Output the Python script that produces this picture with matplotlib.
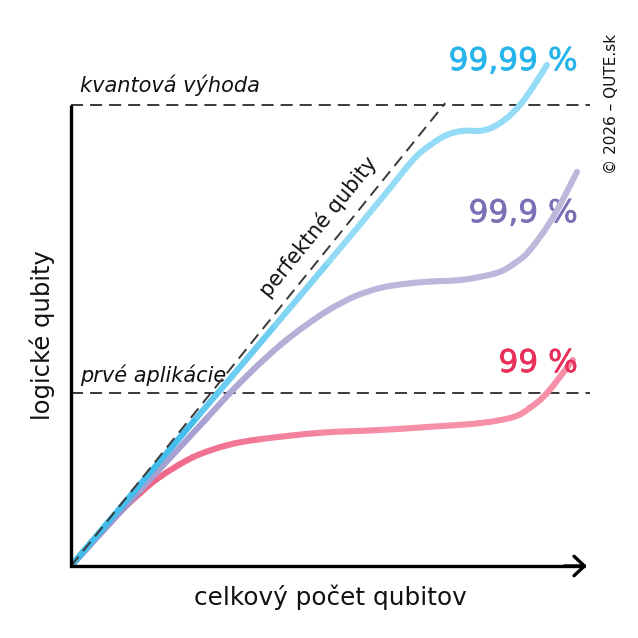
import numpy as np
import matplotlib
matplotlib.use('Agg')
import matplotlib.pyplot as plt
import matplotlib.patheffects as pe
from matplotlib.path import Path
from matplotlib.patches import PathPatch
from matplotlib.colors import to_rgb

# x = total qubits, y = logical qubits (100 = quantum advantage)
x_99 = [0, 4.6, 9.4, 13.3, 17.1, 23.5, 30.1, 36.4, 48.0, 59.5, 69.2, 78.8, 85.2, 88.4, 91.7, 96.7]
y_99 = [0, 5.9, 11.7, 15.8, 19.3, 23.6, 26.2, 27.5, 28.9, 29.5, 30.2, 31.0, 32.3, 34.3, 37.5, 44.7]

x_999 = [0, 13.3, 26.2, 30.6, 35.5, 40.3, 45.1, 49.9, 54.7, 59.5, 64.3, 69.2, 75.5, 82.1, 85.5, 88.4, 92.9, 97.5]
y_999 = [0, 16.4, 32.1, 37.5, 43.0, 47.9, 52.1, 55.7, 58.5, 60.3, 61.2, 61.7, 62.1, 63.6, 65.7, 68.5, 75.7, 85.5]

x_9999 = [0, 24.3, 28.8, 39.4, 49.6, 59.6, 65.9, 69.2, 72.4, 75.5, 78.8, 81.3, 84.0, 86.5, 89.0, 91.7]
y_9999 = [0, 32.3, 38.2, 52.3, 65.9, 79.4, 88.1, 91.3, 93.5, 94.4, 94.4, 95.2, 97.2, 100.0, 103.9, 108.7]

perfect_x = [0, 72.1]
perfect_y = [0, 100.4]

level_adv = 100.0
level_apps = 37.5

labels = ['99 %', '99,9 %', '99,99 %']


def gradient_curve(ax, xs, ys, c0, c1, lw=4.4, z=3):
    # smooth (catmull-rom -> bezier) between the read points, colour fading along it
    p = np.column_stack([xs, ys]).astype(float)
    n = len(p)
    d = np.hypot(np.diff(p[:, 0]), np.diff(p[:, 1]))
    t = (np.cumsum(d) - d / 2) / d.sum()
    a, b = np.array(to_rgb(c0)), np.array(to_rgb(c1))
    for i in range(n - 1):
        p0 = p[max(i - 1, 0)]
        p3 = p[min(i + 2, n - 1)]
        c_1 = p[i] + (p[i + 1] - p0) / 6
        c_2 = p[i + 1] - (p3 - p[i]) / 6
        path = Path([p[i], c_1, c_2, p[i + 1]],
                    [Path.MOVETO, Path.CURVE4, Path.CURVE4, Path.CURVE4])
        col = tuple(a + (b - a) * min(1, t[i] * 1.6))
        ax.add_patch(PathPatch(path, fill=False, edgecolor=col, lw=lw,
                               capstyle='round', joinstyle='round', zorder=z))


fig = plt.figure(figsize=(6.38, 6.38), dpi=100)
ax = fig.add_axes([71 / 638, 72 / 638, 519 / 638, 525.5 / 638])
ax.set_xlim(0, 100)
ax.set_ylim(0, 114)
ax.axis('off')

dash_kw = dict(color='#3a3838', lw=1.4, dashes=(6.2, 3.6))
ax.plot([0, 100], [level_adv, level_adv], zorder=2, **dash_kw)
ax.plot([0, 100], [level_apps, level_apps], zorder=2, **dash_kw)

gradient_curve(ax, x_99, y_99, '#ea4f76', '#f690a9', z=3)
gradient_curve(ax, x_999, y_999, '#9a92cc', '#bdb7dc', z=4)
gradient_curve(ax, x_9999, y_9999, '#2cb5ea', '#94dcf5', z=5)

ax.plot(perfect_x, perfect_y, zorder=6, **dash_kw)

# axes
ax.plot([0, 0, 99], [100, 0, 0], color='black', lw=2.4, solid_joinstyle='miter',
        solid_capstyle='butt', zorder=7, clip_on=False)
ax.annotate('', xy=(99.4, 0), xytext=(95, 0),
            arrowprops=dict(arrowstyle='->,head_length=0.75,head_width=0.7',
                            lw=2.4, color='black', shrinkA=0, shrinkB=0),
            zorder=7, annotation_clip=False)

ax.text(1.7, 102.8, 'kvantová výhoda', style='italic', fontsize=15,
        ha='left', va='baseline', color='#111111')
ax.text(1.7, 39.9, 'prvé aplikácie', style='italic', fontsize=15,
        ha='left', va='baseline', color='#111111')
ax.text(47.6, 73.5, 'perfektné qubity', fontsize=15, rotation=51,
        ha='center', va='center', color='#111111', rotation_mode='anchor')

for yy, lab, c in zip([42.1, 74.6, 107.6], labels, ['#e8305a', '#7a70b6', '#27b4ea']):
    ax.text(97.7, yy, lab, fontsize=22.5, color=c, ha='right', va='baseline',
            path_effects=[pe.withStroke(linewidth=0.5, foreground=c)])

fig.text(330 / 638, 1 - 597 / 638, 'celkový počet qubitov', fontsize=17.8,
         ha='center', va='center', color='#111111')
fig.text(42 / 638, 1 - 335 / 638, 'logické qubity', fontsize=17.5, rotation=90,
         ha='center', va='center', color='#111111')
fig.text(612 / 638, 1 - 104 / 638, '© 2026 – QUTE.sk', fontsize=11, rotation=90,
         ha='center', va='center', color='#111111')

fig.savefig('out.png', dpi=100, facecolor='white')
